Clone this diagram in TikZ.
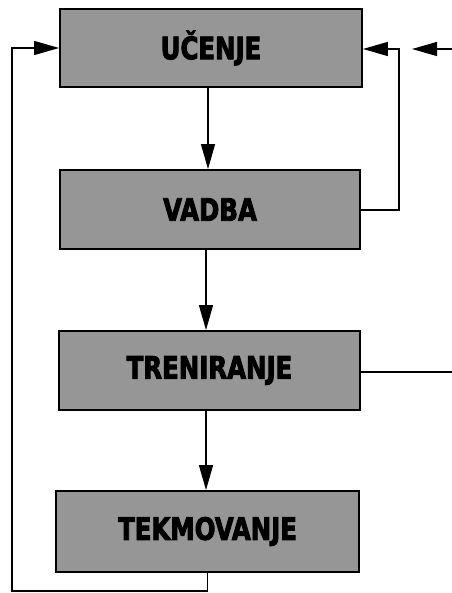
\documentclass[tikz,border=0pt]{standalone}
\usepackage{fontspec}
\setmainfont{Liberation Sans}
\newfontfamily\heavyfont{DejaVu Sans Condensed Bold}[FakeBold=3]
\usetikzlibrary{arrows.meta}
\newcommand{\stagetext}[1]{\scalebox{0.97}[1.1]{\heavyfont #1}}
\begin{document}
\begin{tikzpicture}[x=1pt,y=-1pt,
  stagebox/.style={draw=black,line width=1.8pt,fill={rgb,255:red,150;green,150;blue,150},
    minimum width=302pt,minimum height=78pt,inner sep=0pt,
    font=\fontsize{28}{30}\selectfont},
  conn/.style={line width=1.3pt,draw=black},
  arr/.style={conn,-{Triangle[length=25pt,width=14pt]}}]
\useasboundingbox (0,0) rectangle (451,593);
\node[stagebox] (U) at (211,48) {\stagetext{UČENJE}};
\node[stagebox,minimum width=300pt,minimum height=79pt] (V) at (210,209.5) {\stagetext{VADBA}};
\node[stagebox,minimum width=301pt,minimum height=79pt] (T) at (209.5,370.5) {\stagetext{TRENIRANJE}};
\node[stagebox,minimum width=303pt,minimum height=81pt] (K) at (207.5,531.5) {\stagetext{TEKMOVANJE}};
% vertical flow
\draw[arr] (U.south -| 208,0) -- (V.north -| 208,0);
\draw[arr] (V.south -| 206,0) -- (T.north -| 206,0);
\draw[arr] (T.south -| 206,0) -- (K.north -| 206,0);
% left feedback loop
\coordinate (bl) at (12,591);
\coordinate (tl) at (12,48);
\draw[arr] (K.south) -- (K.south |- bl) -- (bl) -- (tl) -- (U.west);
% right loop from VADBA
\coordinate (vr) at (399,210);
\coordinate (ur) at (399,49);
\draw[arr] (V.east |- vr) -- (vr) -- (ur) -- (U.east |- ur);
% loop from TRENIRANJE (leaves the page)
\coordinate (tr) at (453,372);
\coordinate (tt) at (453,49);
\coordinate (ta) at (412,49);
\draw[conn] (T.east |- tr) -- (tr) -- (tt);
\draw[arr] (tt) -- (ta);
\end{tikzpicture}
\end{document}
